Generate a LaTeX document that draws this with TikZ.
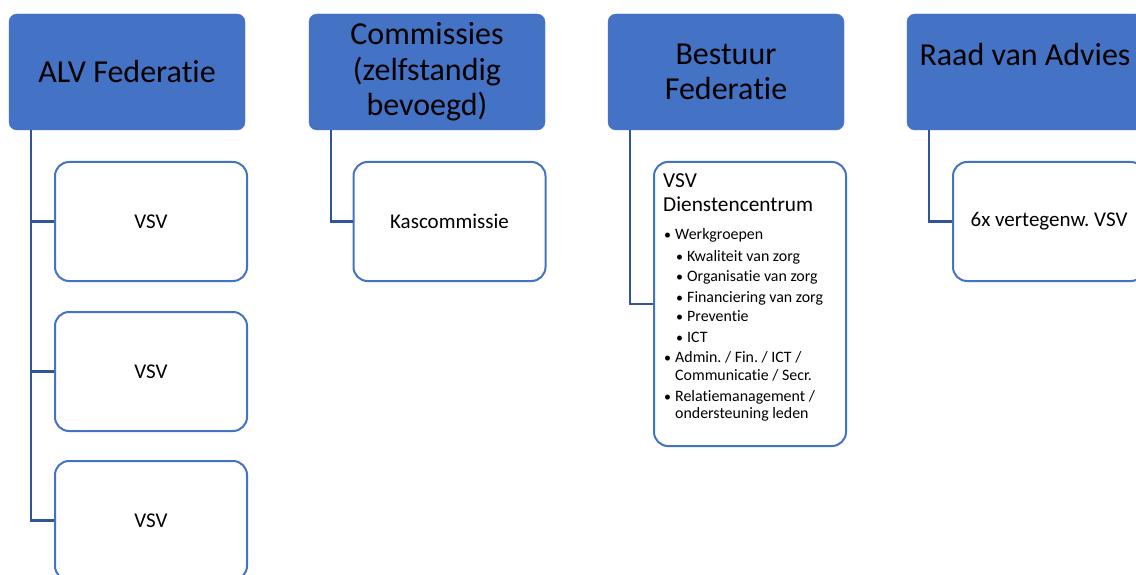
\documentclass[tikz,border=0pt]{standalone}
\usepackage{fontspec}
\setmainfont{Carlito}[RawFeature={-liga}]
\usetikzlibrary{calc}
\definecolor{hdrblue}{HTML}{4472C4}
\definecolor{connblue}{HTML}{2F5597}
\frenchspacing
\begin{document}
\begin{tikzpicture}[x=1pt,y=-1pt,
  hdr/.style={rectangle, rounded corners=8pt, fill=hdrblue, draw=hdrblue, minimum width=236pt, minimum height=116pt, inner sep=0pt, align=center, font=\fontsize{32}{35.5}\selectfont},
  htxt/.style={inner sep=0pt, align=center, font=\fontsize{32}{35.5}\selectfont},
  child/.style={rectangle, rounded corners=14pt, draw=hdrblue, line width=2pt, fill=white, minimum width=192pt, minimum height=119pt, inner sep=0pt, font=\fontsize{21}{24}\selectfont},
  conn/.style={draw=connblue, line width=2.2pt},
  dctitle/.style={inner sep=0pt, anchor=base west, font=\fontsize{21.3}{24}\selectfont},
  dcitem/.style={inner sep=0pt, anchor=base west, font=\fontsize{15.9}{17.5}\selectfont},
  bul/.style={inner sep=0pt, anchor=base west, font=\fontsize{14}{17.5}\selectfont}
]
\clip (0,0) rectangle (1136,575);
\fill[white] (0,0) rectangle (1136,575);

% headers
\node[hdr] (alv) at (127,72) {ALV Federatie};
\node[hdr] (com) at (427,72) {Commissies\\(zelfstandig\\bevoegd)};
\node[hdr] (bes) at (726,72) {Bestuur\\Federatie};
\node[hdr] (raad) at (1025,72) {};
\node[htxt] (raadt) at (1025,55) {Raad van Advies};

% children
\node[child] (vsv1) at (151,221.5) {VSV};
\node[child] (vsv2) at (151,371.5) {VSV};
\node[child] (vsv3) at (151,520.5) {VSV};
\node[child] (kas) at (449.5,221.5) {Kascommissie};
\node[child, minimum height=284pt] (dc) at (750,304) {};
\node[child] (rva) at (1049,221.5) {6x vertegenw. VSV};

% connectors
\coordinate (alvd) at ($(alv.south west)+(22,0)$);
\draw[conn] (alvd) |- (vsv1.west);
\draw[conn] (alvd) |- (vsv2.west);
\draw[conn] (alvd) |- (vsv3.west);
\coordinate (comd) at ($(com.south west)+(22,0)$);
\draw[conn] (comd) |- (kas.west);
\coordinate (besd) at ($(bes.south west)+(22,0)$);
\draw[conn] (besd) |- (dc.west);
\coordinate (raadd) at ($(raad.south west)+(22,0)$);
\draw[conn] (raadd) |- (rva.west);

% Dienstencentrum text
\node[dctitle] (dct1) at (663,188) {VSV};
\node[dctitle] (dct2) at (663,211.5) {Dienstencentrum};
\node[bul] (b1) at (664,239) {•};
\node[dcitem] (i1) at (675,239) {Werkgroepen};
\node[bul] (b2) at (676,261) {•};
\node[dcitem] (i2) at (687,261) {Kwaliteit van zorg};
\node[bul] (b3) at (676,281) {•};
\node[dcitem] (i3) at (687,281) {Organisatie van zorg};
\node[bul] (b4) at (676,302) {•};
\node[dcitem] (i4) at (687,302) {Financiering van zorg};
\node[bul] (b5) at (676,321) {•};
\node[dcitem] (i5) at (687,321) {Preventie};
\node[bul] (b6) at (676,342) {•};
\node[dcitem] (i6) at (687,342) {ICT};
\node[bul] (b7) at (664,362) {•};
\node[dcitem] (i7) at (675,362) {Admin. / Fin. / ICT /};
\node[dcitem] (i7b) at (675,380) {Communicatie / Secr.};
\node[bul] (b8) at (664,401) {•};
\node[dcitem] (i8) at (675,401) {Relatiemanagement /};
\node[dcitem] (i8b) at (675,418) {ondersteuning leden};
\end{tikzpicture}
\end{document}
